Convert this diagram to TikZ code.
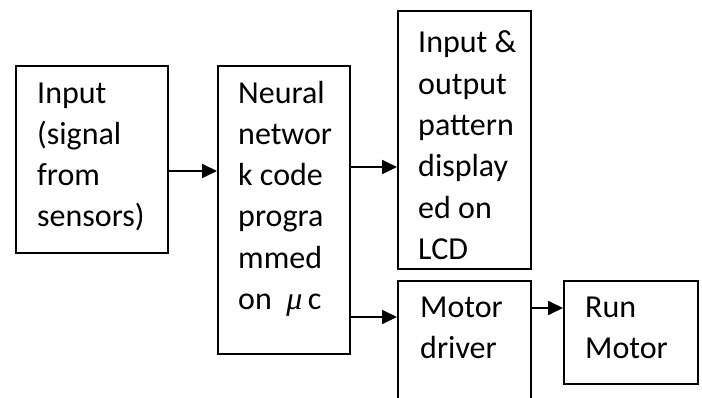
\documentclass[tikz,border=0pt]{standalone}
\usepackage{fontspec}
\setmainfont{Carlito}
\newfontfamily\greekserif{Liberation Serif}
\usetikzlibrary{arrows.meta}
\tikzset{
  blk/.style={draw, line width=1.6pt, anchor=north west, inner sep=0pt},
  txt/.style={anchor=base west, align=left, inner sep=0pt,
              font=\fontsize{32}{41.3}\selectfont},
  arr/.style={line width=1.8pt, -{Triangle[length=15pt,width=14pt]}}
}
\begin{document}
\begin{tikzpicture}[x=1pt,y=-1pt]
\clip (0,0) rectangle (702,398);
% blocks
\node[blk, minimum width=152pt, minimum height=187pt] (b1) at (15,65) {};
\node[blk, minimum width=132pt, minimum height=288pt] (b2) at (217,65) {};
\node[blk, minimum width=133pt, minimum height=258pt] (b3) at (397,10) {};
\node[blk, minimum width=133pt, minimum height=140pt] (b4) at (397,280) {};
\node[blk, minimum width=134pt, minimum height=103pt] (b5) at (563,280) {};
% labels (anchored at the baseline of their last line)
\node[txt] (t1) at ([xshift=22pt,yshift=-162pt]b1.north west) {Input\\(signal\\from\\sensors)};
\node[txt] (t2) at ([xshift=21pt,yshift=-244.5pt]b2.north west) {Neural\\networ\\k code\\progra\\mmed\\on\ \ {\greekserif\itshape μ}\,c};
\node[txt] (t3) at ([xshift=21pt,yshift=-249.5pt]b3.north west) {Input \&\\output\\pattern\\display\\ed on\\LCD};
\node[txt] (t4) at ([xshift=23pt,yshift=-78.3pt]b4.north west) {Motor\\driver};
\node[txt] (t5) at ([xshift=22pt,yshift=-78.3pt]b5.north west) {Run\\Motor};
% connectors
\draw[arr] ([yshift=-106pt]b1.north east) -- ([yshift=-106pt]b1.north east -| b2.west);
\draw[arr] ([yshift=-102pt]b2.north east) -- ([yshift=-102pt]b2.north east -| b3.west);
\draw[arr] ([yshift=-252pt]b2.north east) -- ([yshift=-252pt]b2.north east -| b4.west);
\draw[arr] ([yshift=-28pt]b4.north east) -- ([yshift=-28pt]b4.north east -| b5.west);
\end{tikzpicture}
\end{document}
